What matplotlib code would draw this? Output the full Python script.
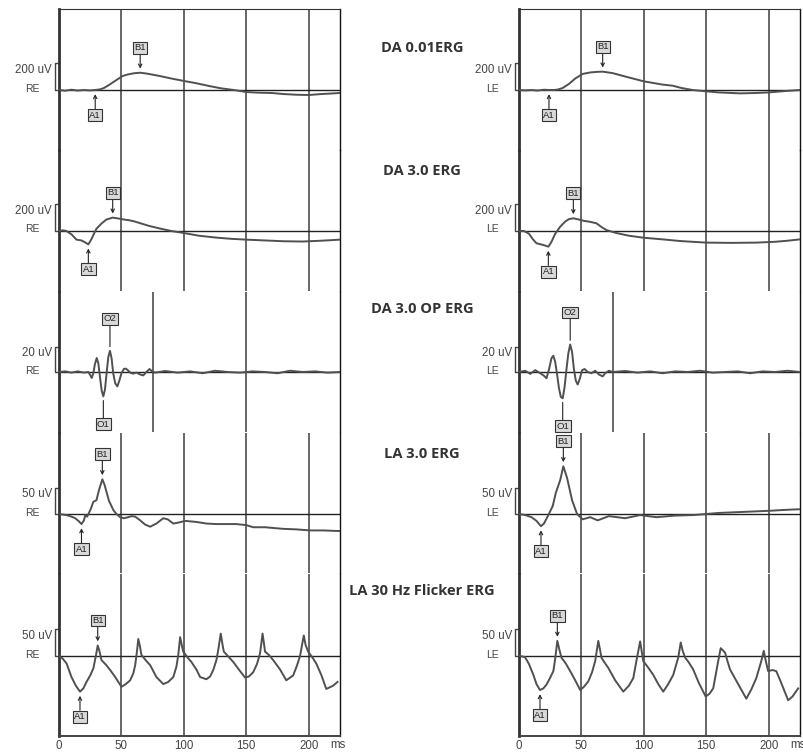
import matplotlib.pyplot as plt
from matplotlib.transforms import blended_transform_factory

plt.rcParams['font.family'] = ['Liberation Sans', 'DejaVu Sans']

W, H = 804, 752

# ---- traces: time in ms, amplitude in uV ----
da001_re_t = [0, 5, 10, 15, 20, 25, 29, 33, 36, 40, 46, 51, 55, 60, 65, 70, 80, 90, 100, 110,
              120, 130, 140, 150, 160, 170, 180, 190, 200, 210, 220, 225]
da001_re_v = [0, -5, 2, -4, 0, -3, 0, 5, 15, 37, 74, 104, 115, 124, 128, 122, 105, 85, 67, 50,
              30, 12, 0, -15, -20, -22, -30, -35, -37, -30, -25, -22]

da001_le_t = [0, 5, 10, 15, 20, 24, 28, 31, 35, 40, 45, 51, 57, 62, 67, 75, 85, 100, 115, 123,
              130, 139, 150, 160, 170, 177, 190, 200, 210, 225]
da001_le_v = [0, -3, 0, -4, 2, 0, 0, 3, 15, 45, 85, 119, 130, 134, 136, 125, 100, 64, 40, 32,
              15, 0, -10, -18, -22, -25, -22, -18, -10, 0]

da3_re_t = [0, 3, 6, 10, 14, 18, 21, 23.5, 26, 28, 30, 34, 38, 43, 48, 52, 56, 60, 66, 72, 81,
            90, 100, 112, 126, 138, 150, 165, 180, 195, 210, 225]
da3_re_v = [0, 5, 0, -25, -64, -70, -85, -99, -60, -20, 17, 55, 85, 99, 92, 85, 80, 72, 55, 38,
            18, 0, -15, -35, -49, -58, -64, -70, -76, -78, -72, -64]

da3_le_t = [0, 4, 8, 11, 14, 18, 21, 23.5, 26, 29, 33, 37, 40, 43.5, 48, 52, 57, 62, 66, 70, 78,
            88, 100, 115, 130, 150, 170, 190, 205, 215, 225]
da3_le_v = [0, 0, -20, -60, -91, -100, -108, -116, -80, -20, 32, 70, 88, 94, 85, 75, 68, 57, 30,
            7, -15, -35, -50, -62, -75, -86, -88, -86, -80, -72, -62]

op_re_t = [0, 5, 10, 15, 20, 23.5, 25, 26.2, 27.5, 28.7, 30.2, 31.5, 32.8, 34.2, 35.5, 36.8,
           38.2, 39.5, 40.8, 42.1, 43.4, 45, 46.7, 48.3, 50, 52, 53.6, 55.5, 57.5, 59.5, 62,
           65, 67.5, 70, 72.5, 74.5, 77, 85, 95, 105, 115, 125, 135, 145, 155, 165, 175, 185,
           195, 205, 215, 225]
op_re_v = [0, 0.5, -0.5, 0.5, -0.5, 0, -2.5, -4.8, -1, 6, 11.2, 7, -4, -15, -19.5, -14,
           0, 12, 17, 11, -1, -9, -11.5, -7, -1, 2.5, 2.7, 1, -0.8, -1.3, -0.5,
           -2, -2.7, 0, 2.4, 0.5, -0.5, 0.8, -0.5, 0.5, -1, 1, 0, -0.5, 0.5, 0, -1, 1,
           0, 0.5, -0.5, 0]

op_le_t = [0, 5, 9, 13, 17, 20, 22, 24, 26, 27.5, 29, 30.5, 32, 33.5, 35, 36.5, 38, 39.5, 41,
           42.5, 44, 45.5, 47, 48.5, 50.5, 52.5, 55, 58, 61, 64, 67, 69, 72, 75, 85, 95, 105,
           115, 125, 135, 145, 155, 165, 175, 185, 195, 205, 215, 225]
op_le_v = [0, 1, -1.5, 1.5, -1, -3, -5, 2, 11, 13, 8, -2, -13, -20, -21, -12, 2, 15, 22,
           16, 2, -7, -10, -6, 1.5, 2.4, 0, -1, 1, -2, -3.5, -1, 1, 0, 0.8, -0.5, 0.5,
           -1, 0.5, 0, 1, -0.5, 0, 0.5, -1, 0.5, 0, 1, 0]

la3_re_t = [0, 3, 6, 10, 13, 16, 18, 20, 21, 22.5, 24, 25.5, 27.5, 30, 32, 34.7, 36.5, 38, 40,
            43.5, 46, 49, 52, 55.5, 58, 61, 65, 69, 73, 78, 83.5, 87, 91.5, 96, 101, 110, 118,
            126, 134, 142, 150, 155.5, 165, 179.5, 190, 201, 212, 222, 225]
la3_re_v = [0, -1, -2, -5, -8, -14, -19, -12, -2, -5, 2, 10, 23, 26, 45, 65.5, 55, 42, 25,
            7.5, 0, -6, -8, -6, -4, -5, -12, -20, -24, -18, -8, -10, -18, -16, -13, -15, -18,
            -19, -19, -19, -21, -25, -25, -28, -29, -31, -31, -32, -32]

la3_le_t = [0, 5, 10, 14, 17.6, 20, 23.5, 27, 29.5, 33, 35.5, 38.5, 42.5, 46.5, 51, 57, 63,
            72, 85, 97, 110, 125, 140, 160, 180, 200, 215, 225]
la3_le_v = [0, -2, -6, -13, -23, -18, -2, 15, 40, 64, 90, 68, 26, 0, -10, -6, -12,
            -4, -8, -2, -6, -3, -2, 2, 4, 6, 8, 9]

flk_re_t = [0, 3, 6.1, 10, 13.5, 16.8, 19.5, 22, 25, 27.5, 29.5, 31, 32.5, 34, 37.5, 41, 45,
            50, 53.5, 57, 59.5, 61, 62.5, 63.5, 64.8, 66, 69.5, 73, 78, 83.5, 87.5, 91.5, 94,
            95.5, 97, 98.3, 99.5, 103, 106, 110, 113, 118, 121, 123.5, 126, 127.5, 129.5,
            131, 132, 136, 139.5, 144, 149, 152, 155.5, 158.5, 161, 163, 164, 165, 168,
            171.5, 177, 182, 187.5, 190.5, 193, 196, 197.5, 199.5, 203, 206, 210, 214,
            219.5, 223]
flk_re_v = [0, -5, -14, -39, -55, -66, -60, -48, -36, -23, 0, 19.5, 8, -7.5, -16, -26, -39,
            -57, -52, -45, -32, -17, 10, 31.5, 18, 2, -8, -17, -39, -52, -48, -39, -20,
            2, 35, 20, 8, -3, -11, -25, -39, -43, -38, -26, -8, 11, 41.5,
            20, 8, -2, -11, -25, -40, -38, -30, -15, 5, 41.5, 25, 8, 2,
            -7.5, -25, -45, -36, -18, 0, 38, 20, 8, -3, -14, -35, -61,
            -55, -48]

flk_le_t = [0.8, 4.8, 8, 11.5, 14, 16.8, 19.5, 22, 25, 27.5, 29, 30.7, 32.3, 34, 37.5, 41, 45,
            49, 52, 55.5, 58.5, 61, 63.5, 65, 66, 68.5, 71.5, 77, 83.5, 88, 91.5, 94.5, 97,
            98.3, 99.5, 103, 107.5, 111.5, 115.5, 119.5, 123.5, 127.5, 129.5, 131, 133, 136,
            139.5, 144, 149.5, 152.5, 155.5, 157.5, 159.5, 161.5, 163.5, 165, 167, 169, 175,
            182, 186, 190, 194, 196, 197.5, 199.5, 203, 206, 210, 215.5, 219, 223.5]
flk_le_v = [0, -2, -15, -35, -52, -63, -60, -53, -40, -28, -5, 28, 12, -3, -14, -28, -45,
            -63, -57, -47, -30, -9.5, 28, 10, -3, -12, -22, -45, -66, -55, -41, -3, 27,
            8, -9.5, -20, -35, -52, -66, -52, -35, -3, 25, 10, -3, -12,
            -25, -50, -75, -70, -60, -35, -9.5, 14.5, 10, 6, -10, -25, -50,
            -79, -62, -41, -9.5, 9.5, -8, -28, -26, -28, -50, -82, -75, -60]

# marker labels and their latencies (ms)
da001_re_marks = [('A1', 29), ('B1', 65)]
da001_le_marks = [('A1', 24), ('B1', 67)]
da3_re_marks = [('A1', 23.5), ('B1', 43)]
da3_le_marks = [('A1', 23.5), ('B1', 43.5)]
op_re_marks = [('O1', 35.5), ('O2', 40.8)]
op_le_marks = [('O1', 35), ('O2', 41)]
la3_re_marks = [('A1', 18), ('B1', 34.7)]
la3_le_marks = [('A1', 17.6), ('B1', 35.5)]
flk_re_marks = [('A1', 16.8), ('B1', 31)]
flk_le_marks = [('A1', 16.8), ('B1', 30.7)]

titles = ['DA 0.01ERG', 'DA 3.0 ERG', 'DA 3.0 OP ERG', 'LA 3.0 ERG', 'LA 30 Hz Flicker ERG']
scales = [200, 200, 20, 50, 50]
time_ticks = [0, 50, 100, 150, 200]

# layout in pixels: panel top, bottom, zero line, scale bar height, title row
rows = [
    (9, 150, 90, 27, 48, [50, 100, 150, 200]),
    (150, 291, 231, 27, 171, [50, 100, 150, 200]),
    (292, 432, 372, 25, 309, [75, 150]),
    (433, 573, 514, 26.5, 454, [50, 100, 150, 200]),
    (574, 736, 656, 27, 591, [50, 100, 150, 200]),
]
traces = [
    ((da001_re_t, da001_re_v, da001_re_marks), (da001_le_t, da001_le_v, da001_le_marks)),
    ((da3_re_t, da3_re_v, da3_re_marks), (da3_le_t, da3_le_v, da3_le_marks)),
    ((op_re_t, op_re_v, op_re_marks), (op_le_t, op_le_v, op_le_marks)),
    ((la3_re_t, la3_re_v, la3_re_marks), (la3_le_t, la3_le_v, la3_le_marks)),
    ((flk_re_t, flk_re_v, flk_re_marks), (flk_le_t, flk_le_v, flk_le_marks)),
]
columns = [(59, 340, 'RE'), (519, 800, 'LE')]

fig = plt.figure(figsize=(W / 100, H / 100), dpi=100)

box = dict(boxstyle='square,pad=0.15', fc='#d9d9d9', ec='#333333', lw=0.8)

for i, (top, bottom, base, bar, title_y, grid) in enumerate(rows):
    fig.text(422 / W, 1 - title_y / H, titles[i], ha='center', va='center',
             fontsize=10.5, fontweight='bold', family='Open Sans', color='#333333')
    s = scales[i] / bar
    last = i == len(rows) - 1
    for c, (x0, x1, eye) in enumerate(columns):
        t, v, marks = traces[i][c]
        ax = fig.add_axes([x0 / W, 1 - bottom / H, (x1 - x0) / W, (bottom - top) / H])
        ax.set_facecolor('none')
        ax.plot(t, v, color='#505050', lw=1.4, zorder=3)
        ax.axhline(0, color='#222222', lw=1, zorder=2)

        ax.set_xticks(time_ticks if last else grid)
        ax.grid(axis='x', color='#5a5a5a', lw=1.3)
        ax.tick_params(length=0, labelleft=False, labelbottom=last,
                       labelsize=8.3, labelcolor='#444444', pad=3)
        ax.set_yticks([])
        for side in ['top', 'bottom']:
            ax.spines[side].set_visible(False)
        ax.spines['left'].set_color('#333333')
        ax.spines['left'].set_linewidth(2)
        ax.spines['right'].set_color('#111111')
        ax.spines['right'].set_linewidth(1)
        if i == 0:
            ax.spines['top'].set_visible(True)
            ax.spines['top'].set_color('#333333')
        if last:
            ax.spines['bottom'].set_visible(True)
            ax.spines['bottom'].set_color('#444444')
            ax.spines['bottom'].set_linewidth(1.4)
            ax.annotate('ms', xy=(1, 0), xycoords='axes fraction', xytext=(-2, -9),
                        textcoords='offset pixels', ha='center', va='center',
                        fontsize=8.3, color='#444444', annotation_clip=False)

        # calibration bracket and eye label left of the trace
        tr = blended_transform_factory(fig.transFigure, ax.transData)
        ax.plot([x0 / W, (x0 - 4) / W, (x0 - 4) / W, x0 / W], [scales[i], scales[i], 0, 0],
                color='#444444', lw=1, transform=tr, clip_on=False)
        ax.text((x0 - 7) / W, scales[i] * 0.75, '%d uV' % scales[i], transform=tr,
                ha='right', va='center', fontsize=8.3, color='#444444')
        ax.text((x0 - 26.5) / W, 1.5 * s, eye, transform=tr,
                ha='center', va='center', fontsize=7.5, color='#444444')

        # peak markers
        lookup = dict(zip(t, v))
        for name, tm in marks:
            val = lookup[tm]
            up = name in ('B1', 'O2')
            if name.startswith('O'):
                dy = 32 if up else -28
                style = '-'
            else:
                dy = 25 if up else -25
                style = '->,head_length=0.35,head_width=0.18'
            ax.annotate(name, xy=(tm, val), xytext=(0, dy), textcoords='offset pixels',
                        ha='center', va='center', fontsize=6.8, color='#222222', bbox=box,
                        arrowprops=dict(arrowstyle=style, color='#222222', lw=0.8,
                                        shrinkA=0, shrinkB=3))

        ax.set_xlim(0, 225)
        ax.set_ylim(-(bottom - base) * s, (base - top) * s)

fig.savefig('out.png', dpi=100)
